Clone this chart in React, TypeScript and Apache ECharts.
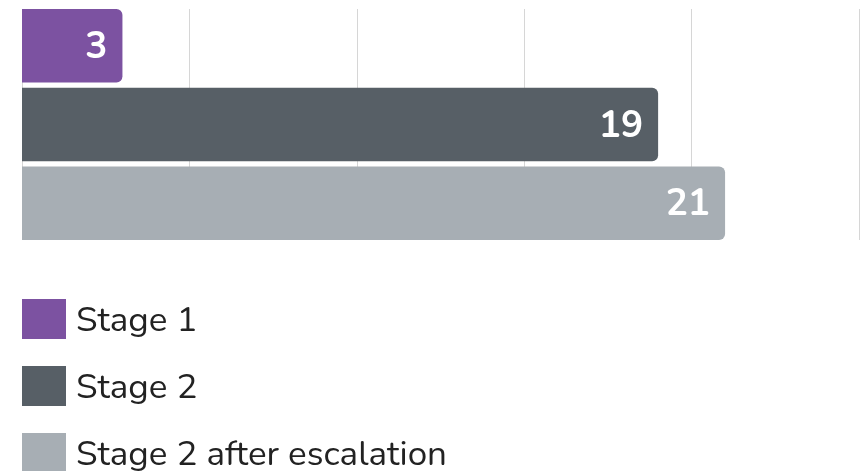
import React, { useEffect, useRef } from "react";
import * as echarts from "echarts";

const categories = ["Total"];
const seriesNames = ["Stage 1", "Stage 2", "Stage 2 after escalation"];
const seriesValues = [[3], [19], [21]];
const colors = ["#7c52a1", "#575f66", "#a7aeb4"];
const FONT = "Nunito, 'Open Sans', Lato, sans-serif";

export default function App() {
  const ref = useRef<HTMLDivElement>(null);
  useEffect(() => {
    if (!ref.current) return;
    const chart = echarts.init(ref.current, undefined, { renderer: "svg" });
    chart.setOption({
      animation: false,
      textStyle: { fontFamily: FONT },
      grid: { left: 22, right: 8, top: 9, bottom: 231, containLabel: false },
      xAxis: {
        type: "value",
        min: 0,
        max: 25,
        interval: 5,
        axisLabel: { show: false },
        axisLine: { show: false },
        axisTick: { show: false },
        splitLine: { show: true, lineStyle: { color: "#d6d6d6", width: 1 } },
      },
      yAxis: {
        type: "category",
        data: categories,
        inverse: true,
        axisLabel: { show: false },
        axisLine: { show: false },
        axisTick: { show: false },
      },
      legend: {
        orient: "vertical",
        left: 22,
        top: 299,
        height: 240,
        padding: 0,
        itemWidth: 44,
        itemHeight: 40,
        itemGap: 27,
        icon: "rect",
        data: seriesNames,
        textStyle: {
          fontSize: 35,
          lineHeight: 34,
          color: "#222",
          fontFamily: FONT,
          padding: [0, 0, 0, 5],
        },
      },
      series: seriesNames.map((name, i) => ({
        name,
        type: "bar",
        data: seriesValues[i],
        barCategoryGap: "0%",
        barGap: "7%",
        itemStyle: { color: colors[i], borderRadius: [0, 6, 6, 0] },
        label: {
          show: true,
          position: "insideRight",
          distance: 15,
          color: "#fff",
          fontSize: 37,
          fontWeight: "bold",
          fontFamily: FONT,
        },
      })),
    });
    return () => chart.dispose();
  }, []);
  return (
    <div
      ref={ref}
      style={{ position: "fixed", left: 0, top: 0, width: 867, height: 471 }}
    />
  );
}
